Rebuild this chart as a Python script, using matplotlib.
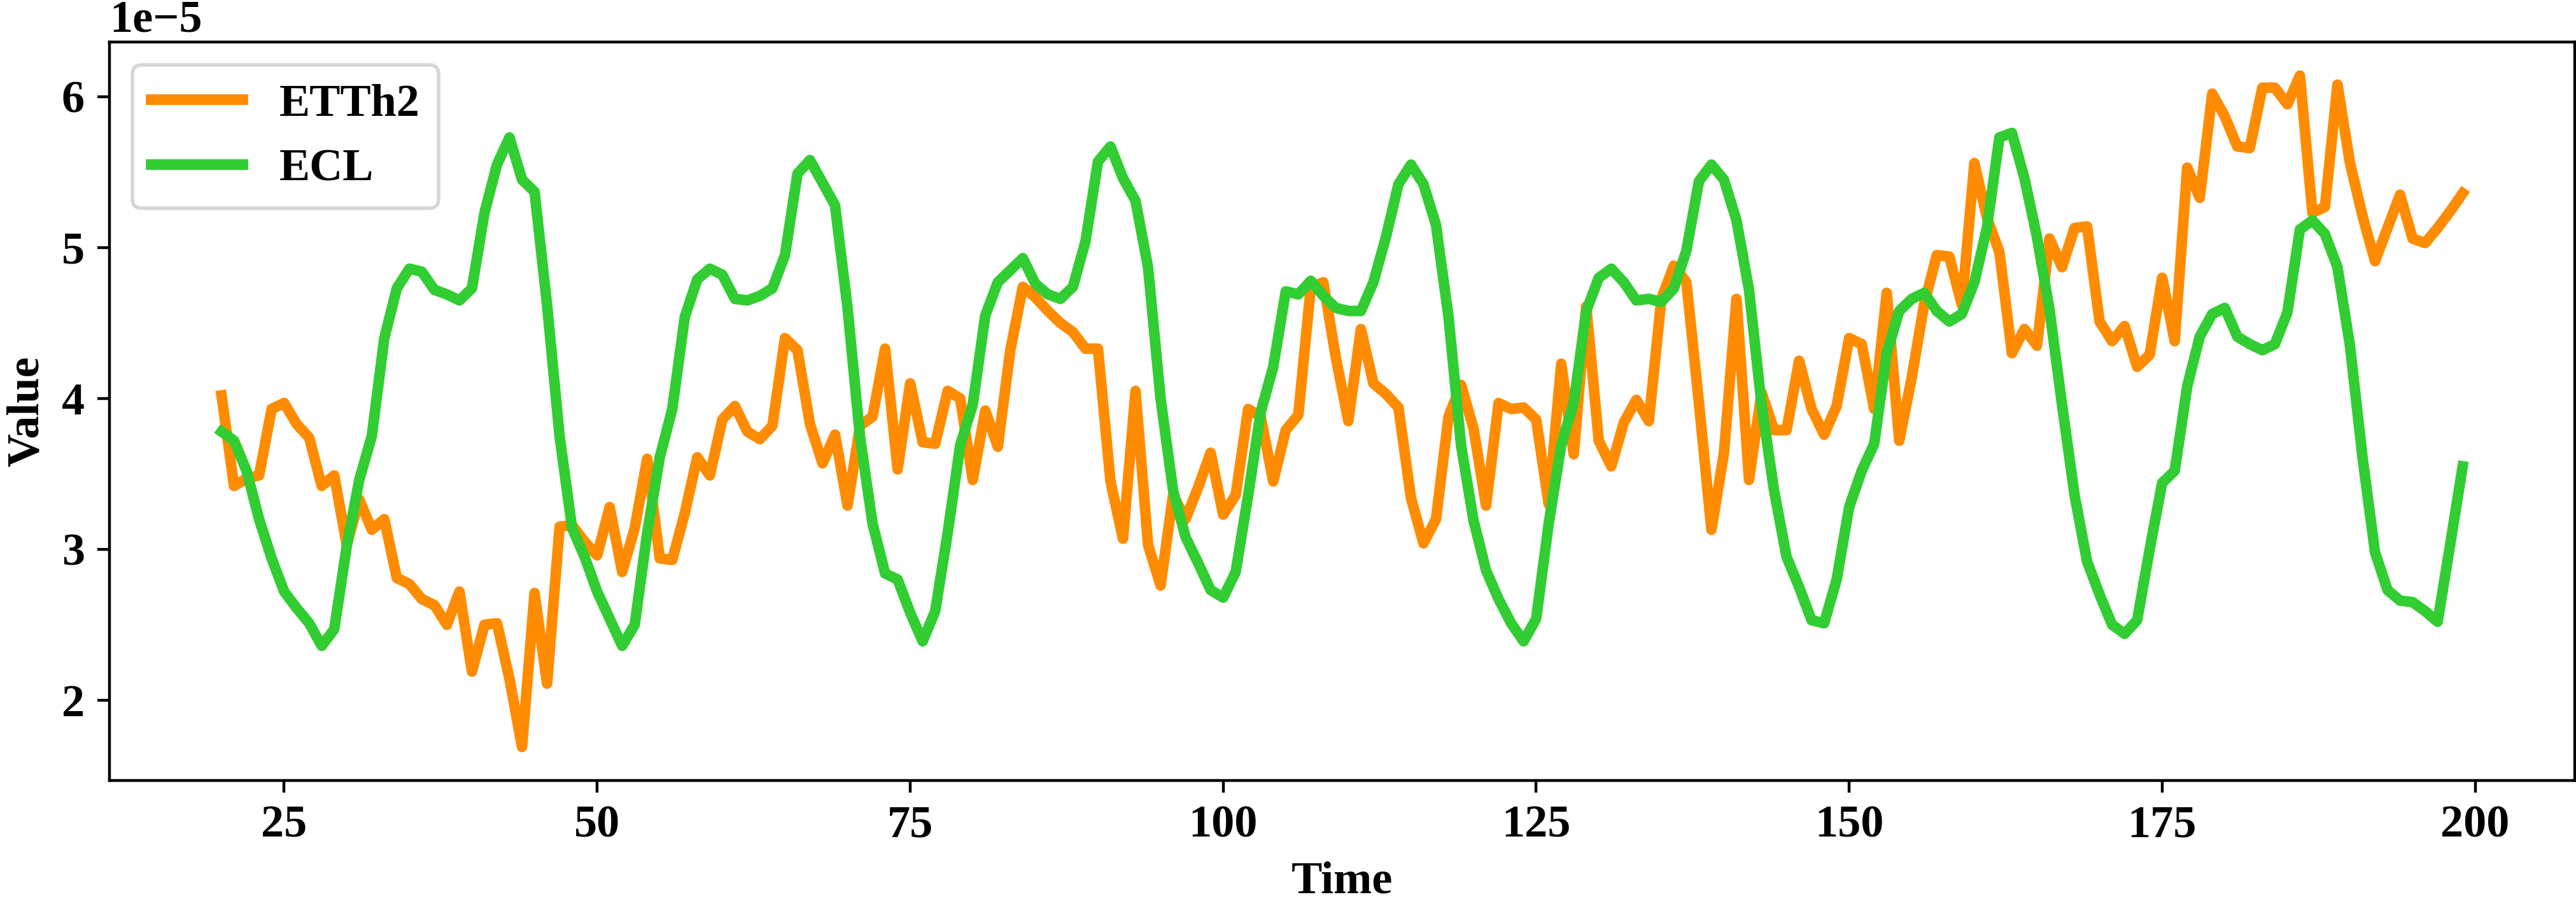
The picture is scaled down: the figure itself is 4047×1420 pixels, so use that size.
import numpy as np
import matplotlib
matplotlib.use("Agg")
import matplotlib.pyplot as plt

plt.rcParams["font.family"] = ["Liberation Serif", "DejaVu Serif"]
plt.rcParams["font.weight"] = "bold"
plt.rcParams["font.size"] = 13

# time steps 20..199, values in units of 1e-5
time_steps = np.arange(20, 200)

etth2 = [
    4.02, 3.42, 3.47, 3.49, 3.93, 3.97, 3.83, 3.74, 3.42, 3.49,
    3.03, 3.33, 3.13, 3.20, 2.81, 2.77, 2.67, 2.63, 2.50, 2.72,
    2.19, 2.50, 2.51, 2.14, 1.69, 2.71, 2.11, 3.15, 3.16, 3.05,
    2.96, 3.28, 2.85, 3.14, 3.60, 2.94, 2.93, 3.24, 3.61, 3.49,
    3.86, 3.95, 3.78, 3.73, 3.82, 4.40, 4.32, 3.83, 3.57, 3.76,
    3.29, 3.82, 3.88, 4.33, 3.53, 4.10, 3.71, 3.70, 4.05, 4.00,
    3.46, 3.92, 3.68, 4.32, 4.74, 4.67, 4.58, 4.50, 4.44, 4.33,
    4.33, 3.45, 3.07, 4.05, 3.03, 2.76, 3.36, 3.20, 3.41, 3.64,
    3.23, 3.36, 3.93, 3.88, 3.45, 3.79, 3.89, 4.74, 4.77, 4.27,
    3.85, 4.46, 4.10, 4.03, 3.94, 3.34, 3.04, 3.20, 3.88, 4.09,
    3.80, 3.29, 3.97, 3.93, 3.94, 3.86, 3.30, 4.23, 3.63, 4.61,
    3.72, 3.55, 3.84, 3.99, 3.85, 4.66, 4.88, 4.77, 3.97, 3.13,
    3.64, 4.66, 3.46, 4.04, 3.79, 3.79, 4.25, 3.93, 3.76, 3.95,
    4.40, 4.36, 3.93, 4.70, 3.72, 4.14, 4.63, 4.95, 4.94, 4.62,
    5.56, 5.20, 4.97, 4.30, 4.46, 4.35, 5.06, 4.87, 5.13, 5.14,
    4.51, 4.38, 4.48, 4.21, 4.29, 4.80, 4.38, 5.53, 5.33, 6.02,
    5.87, 5.67, 5.66, 6.06, 6.06, 5.95, 6.14, 5.23, 5.27, 6.08,
    5.56, 5.21, 4.91, 5.13, 5.35, 5.06, 5.03, 5.13, 5.24, 5.36,
]

ecl = [
    3.78, 3.72, 3.52, 3.20, 2.94, 2.72, 2.61, 2.51, 2.36, 2.47,
    3.02, 3.46, 3.75, 4.40, 4.73, 4.86, 4.84, 4.72, 4.69, 4.65,
    4.73, 5.23, 5.55, 5.73, 5.45, 5.37, 4.62, 3.75, 3.14, 2.95,
    2.72, 2.54, 2.36, 2.50, 3.11, 3.61, 3.93, 4.54, 4.79, 4.86,
    4.82, 4.66, 4.65, 4.68, 4.73, 4.95, 5.49, 5.58, 5.43, 5.28,
    4.60, 3.74, 3.17, 2.84, 2.80, 2.58, 2.39, 2.59, 3.11, 3.69,
    3.96, 4.55, 4.77, 4.85, 4.93, 4.76, 4.69, 4.66, 4.74, 5.04,
    5.57, 5.67, 5.46, 5.31, 4.87, 4.00, 3.39, 3.08, 2.91, 2.73,
    2.68, 2.85, 3.36, 3.91, 4.21, 4.71, 4.69, 4.78, 4.68, 4.60,
    4.58, 4.58, 4.77, 5.07, 5.42, 5.55, 5.42, 5.15, 4.54, 3.69,
    3.19, 2.86, 2.67, 2.51, 2.39, 2.54, 3.17, 3.69, 3.97, 4.58,
    4.80, 4.86, 4.77, 4.65, 4.66, 4.64, 4.73, 4.98, 5.44, 5.55,
    5.45, 5.18, 4.72, 3.96, 3.39, 2.95, 2.75, 2.53, 2.51, 2.80,
    3.28, 3.52, 3.70, 4.30, 4.58, 4.66, 4.70, 4.58, 4.51, 4.56,
    4.77, 5.13, 5.73, 5.76, 5.46, 5.07, 4.59, 3.96, 3.36, 2.92,
    2.70, 2.50, 2.44, 2.53, 3.00, 3.44, 3.52, 4.08, 4.41, 4.56,
    4.60, 4.41, 4.36, 4.32, 4.36, 4.57, 5.12, 5.18, 5.09, 4.87,
    4.35, 3.61, 2.98, 2.73, 2.66, 2.65, 2.59, 2.52, 3.03, 3.55,
]

scale = 1e-5

fig = plt.figure(figsize=(4047 / 400, 1420 / 400), dpi=400)
ax = fig.add_axes([0.0425, 0.1366, 0.957, 0.8169])

ax.plot(time_steps, np.array(etth2) * scale, color="darkorange", lw=3, label="ETTh2")
ax.plot(time_steps, np.array(ecl) * scale, color="limegreen", lw=3, label="ECL")

ax.set_xlabel("Time", fontweight="bold")
ax.set_ylabel("Value", fontweight="bold")
for lbl in ax.get_xticklabels() + ax.get_yticklabels():
    lbl.set_fontweight("bold")
ax.yaxis.get_offset_text().set_fontweight("bold")
ax.yaxis.get_offset_text().set_fontsize(13)

leg = ax.legend(loc="upper left", prop={"weight": "bold", "size": 13})

fig.savefig("out.png", dpi=400)
